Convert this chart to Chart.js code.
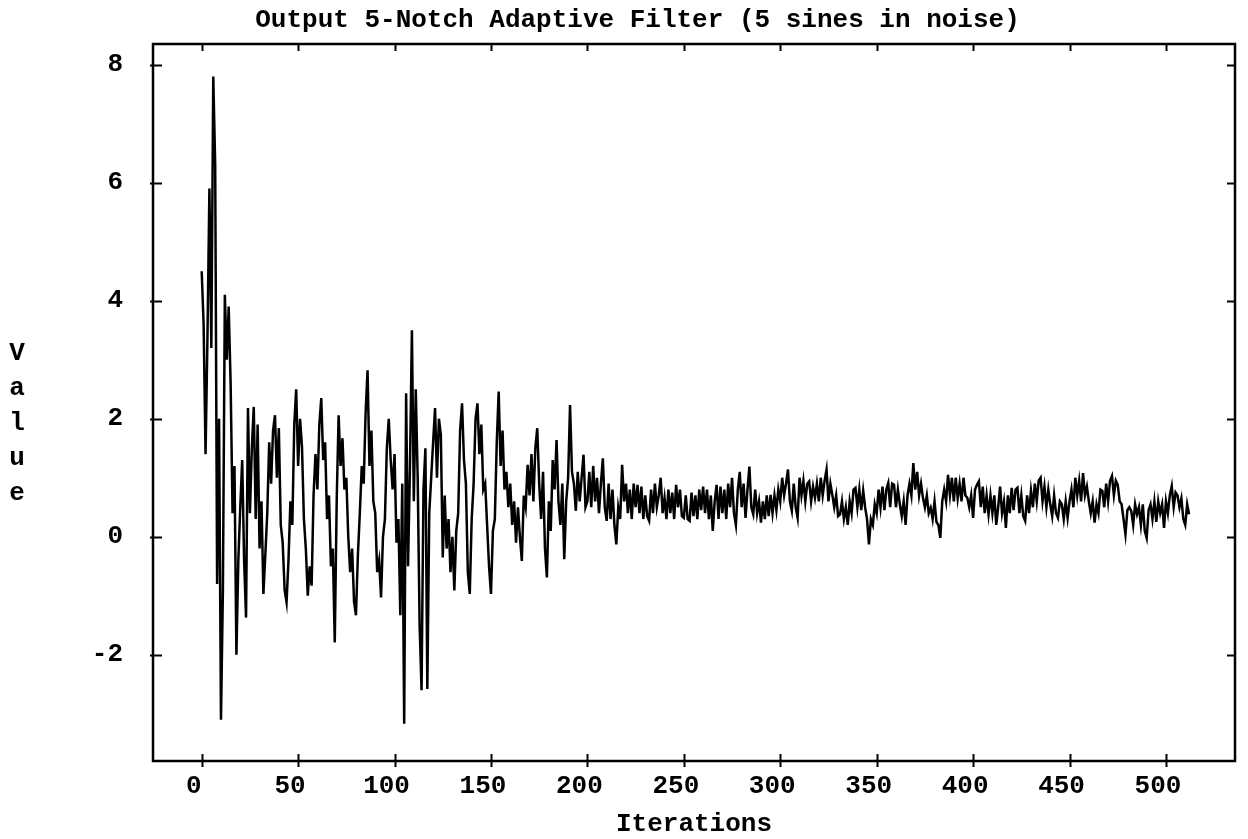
<!DOCTYPE html>
<html>
<head>
<meta charset="utf-8">
<title>Output 5-Notch Adaptive Filter</title>
<script src="https://cdn.jsdelivr.net/npm/chart.js@4.4.1/dist/chart.umd.min.js"></script>
<style>
  html, body { margin: 0; padding: 0; background: #fff; }
  #wrap { width: 1248px; height: 839px; }
</style>
</head>
<body>
<div id="wrap"><canvas id="chart" width="1248" height="839"></canvas></div>
<script>
// Filter output, one value per iteration (0 .. 512)
const outputValues = [
  4.5, 3.6, 1.4, 3.4, 5.9, 3.2, 7.8, 6.3, -0.8, 2.0,
  -3.1, -0.9, 4.1, 3.0, 3.9, 2.6, 0.4, 1.2, -2.0, -0.4,
  0.5, 1.3, -0.4, -1.37, 2.18, 0.4, 1.5, 2.2, 0.3, 1.9,
  -0.2, 0.6, -0.97, -0.3, 0.4, 1.6, 0.9, 1.8, 2.06, 1.0,
  1.84, 0.2, -0.1, -0.9, -1.11, -0.4, 0.6, 0.2, 1.9, 2.5,
  1.2, 2.0, 1.53, 0.3, -0.2, -1.0, -0.5, -0.83, 0.7, 1.4,
  0.8, 1.9, 2.35, 1.3, 1.6, 0.3, 0.7, -0.5, -0.2, -1.79,
  0.6, 2.06, 1.2, 1.67, 0.8, 1.0, 0.0, -0.6, -0.2, -1.1,
  -1.33, -0.3, 0.4, 1.2, 0.9, 2.1, 2.82, 1.2, 1.8, 0.6,
  0.4, -0.6, -0.4, -1.03, 0.0, 0.3, 1.5, 2.0, 1.3, 0.8,
  1.4, -0.1, 0.3, -1.33, 0.9, -3.17, 2.43, -0.5, 1.2, 3.5,
  0.6, 2.5, 1.0, -1.5, -2.6, 0.8, 1.5, -2.58, 0.4, 1.0,
  1.6, 2.18, 1.0, 2.0, 1.73, -0.35, 0.7, -0.2, 0.3, -0.6,
  0.0, -0.91, 0.1, 0.4, 1.8, 2.26, 1.3, 0.9, -0.6, -0.97,
  0.3, 0.9, 2.0, 2.26, 1.4, 1.9, 0.8, 0.9, 0.2, -0.5,
  -0.97, 0.1, 0.3, 1.6, 2.46, 1.2, 1.8, 0.8, 1.1, 0.5,
  0.9, 0.2, 0.6, -0.1, 0.5, 0.0, -0.41, 0.7, 0.5, 1.22,
  0.7, 1.4, 0.6, 1.5, 1.84, 0.9, 0.3, 1.1, -0.2, -0.69,
  0.6, 0.1, 1.3, 0.8, 1.64, 0.6, 0.2, 0.9, -0.38, 0.6,
  1.0, 2.23, 1.1, 0.9, 0.44, 1.1, 0.6, 1.0, 1.39, 0.5,
  0.6, 1.1, 0.5, 1.2, 0.6, 1.0, 0.4, 0.9, 1.33, 0.5,
  0.27, 0.9, 0.3, 0.8, 0.2, -0.13, 0.5, 0.3, 1.22, 0.6,
  0.9, 0.4, 0.8, 0.3, 0.9, 0.5, 0.88, 0.4, 0.85, 0.3,
  0.7, 0.35, 0.27, 0.8, 0.4, 0.9, 0.5, 0.7, 1.0, 0.4,
  0.66, 0.3, 0.8, 0.4, 0.75, 0.3, 0.88, 0.5, 0.8, 0.35,
  0.32, 0.7, 0.3, 0.27, 0.75, 0.35, 0.7, 0.3, 0.8, 0.45,
  0.85, 0.4, 0.8, 0.3, 0.7, 0.1, 0.6, 0.88, 0.3, 0.85,
  0.4, 0.8, 0.3, 0.9, 0.5, 1.0, 0.4, 0.2, 0.8, 1.1,
  0.5, 0.9, 0.32, 0.8, 1.19, 0.5, 0.38, 0.8, 0.4, 0.6,
  0.24, 0.6, 0.3, 0.7, 0.35, 0.71, 0.4, 0.7, 0.45, 0.8,
  0.6, 1.0, 0.7, 0.9, 1.14, 0.6, 0.44, 0.9, 0.5, 0.32,
  1.0, 0.7, 0.95, 0.6, 0.9, 0.94, 0.6, 0.85, 0.66, 0.9,
  0.6, 1.0, 0.7, 0.95, 1.14, 0.6, 0.9, 0.71, 0.5, 0.7,
  0.35, 0.38, 0.6, 0.3, 0.5, 0.2, 0.6, 0.4, 0.8, 0.83,
  0.5, 0.8, 0.45, 0.78, 0.5, 0.3, -0.13, 0.3, 0.2, 0.55,
  0.4, 0.8, 0.5, 0.85, 0.45, 0.8, 0.91, 0.5, 0.9, 0.88,
  0.5, 0.8, 0.55, 0.35, 0.6, 0.2, 0.7, 0.9, 0.7, 1.25,
  0.8, 1.1, 0.7, 0.9, 0.66, 0.5, 0.7, 0.4, 0.49, 0.3,
  0.6, 0.25, 0.2, -0.02, 0.6, 0.8, 0.6, 1.05, 0.7, 1.0,
  0.6, 1.0, 0.65, 0.9, 0.6, 1.0, 0.7, 0.66, 0.5, 0.7,
  0.32, 0.8, 0.88, 0.94, 0.5, 0.85, 0.4, 0.7, 0.38, 0.7,
  0.4, 0.7, 0.2, 0.5, 0.85, 0.4, 0.6, 0.15, 0.7, 0.4,
  0.83, 0.45, 0.8, 0.83, 0.4, 0.7, 0.35, 0.27, 0.7, 0.4,
  0.78, 0.5, 0.9, 0.6, 0.95, 1.0, 0.6, 0.85, 0.5, 0.8,
  0.55, 0.35, 0.7, 0.4, 0.32, 0.6, 0.55, 0.3, 0.6, 0.32,
  0.6, 0.8, 0.5, 1.0, 0.7, 0.95, 0.6, 1.08, 0.7, 0.85,
  0.6, 0.4, 0.6, 0.24, 0.55, 0.4, 0.8, 0.78, 0.5, 0.9,
  0.6, 0.95, 1.03, 0.7, 0.95, 0.88, 0.6, 0.55, 0.3, 0.04,
  0.45, 0.5, 0.44, 0.2, 0.55, 0.38, 0.5, 0.2, 0.55, 0.1,
  -0.02, 0.45, 0.55, 0.3, 0.6, 0.25, 0.6, 0.4, 0.55, 0.15,
  0.6, 0.4, 0.7, 0.86, 0.5, 0.75, 0.7, 0.5, 0.65, 0.3,
  0.2, 0.55, 0.38
];
const iterations = outputValues.map((_, i) => i);

const xTickValues = [0, 50, 100, 150, 200, 250, 300, 350, 400, 450, 500];
const yTickValues = [-2, 0, 2, 4, 6, 8];

const chartTitle = 'Output 5-Notch Adaptive Filter (5 sines in noise)';
const xAxisTitle = 'Iterations';
const yAxisLetters = ['V', 'a', 'l', 'u', 'e'];

const FONT = { family: '"Liberation Mono", "DejaVu Sans Mono", monospace', size: 26, weight: 'bold', lineHeight: 1 };

// Box frame, inward/outward tick marks and the stacked vertical axis caption
const frameAndTicks = {
  id: 'frameAndTicks',
  afterDatasetsDraw(chart) {
    const { ctx, chartArea: a, scales: { x, y } } = chart;
    ctx.save();
    ctx.strokeStyle = '#000';
    ctx.lineWidth = 2.5;
    ctx.strokeRect(a.left, a.top, a.right - a.left, a.bottom - a.top);
    ctx.lineWidth = 2;
    ctx.beginPath();
    x.ticks.forEach(t => {
      const px = Math.round(x.getPixelForValue(t.value)) + 0.5;
      ctx.moveTo(px, a.bottom - 7); ctx.lineTo(px, a.bottom + 6);
      ctx.moveTo(px, a.top); ctx.lineTo(px, a.top + 7);
    });
    y.ticks.forEach(t => {
      const py = Math.round(y.getPixelForValue(t.value)) + 0.5;
      ctx.moveTo(a.left - 3, py); ctx.lineTo(a.left + 9, py);
      ctx.moveTo(a.right - 8, py); ctx.lineTo(a.right, py);
    });
    ctx.stroke();

    ctx.fillStyle = '#000';
    ctx.font = `bold ${FONT.size}px ${FONT.family}`;
    ctx.textAlign = 'center';
    ctx.textBaseline = 'middle';
    const step = 35;
    yAxisLetters.forEach((ch, i) => {
      ctx.fillText(ch, 17, 353 + i * step);
    });
    ctx.restore();
  }
};

new Chart(document.getElementById('chart'), {
  type: 'line',
  data: {
    datasets: [{
      data: iterations.map((it, i) => ({ x: it, y: outputValues[i] })),
      borderColor: '#000',
      borderWidth: 2.5,
      pointRadius: 0,
      tension: 0,
      fill: false
    }]
  },
  options: {
    responsive: false,
    animation: false,
    devicePixelRatio: 1,
    layout: { padding: { left: 40, right: 13, top: 0, bottom: 0 } },
    plugins: {
      legend: { display: false },
      tooltip: { enabled: false },
      title: {
        display: true,
        text: chartTitle,
        color: '#000',
        font: FONT,
        padding: { top: 7, bottom: 11 }
      }
    },
    scales: {
      x: {
        type: 'linear',
        min: -25.25,
        max: 535.8,
        afterBuildTicks: s => { s.ticks = xTickValues.map(v => ({ value: v })); },
        afterFit: s => { s.height = 78; },
        grid: { display: false, drawTicks: false },
        border: { display: false },
        ticks: {
          color: '#000', font: FONT, padding: 12, labelOffset: -8,
          autoSkip: false, maxRotation: 0, minRotation: 0,
          callback: v => String(v)
        },
        title: { display: true, text: xAxisTitle, color: '#000', font: FONT, padding: { top: 0, bottom: 2 } }
      },
      y: {
        min: -3.8,
        max: 8.35,
        afterBuildTicks: s => { s.ticks = yTickValues.map(v => ({ value: v })); },
        afterFit: s => { s.width = 113; },
        grid: { display: false, drawTicks: false },
        border: { display: false },
        ticks: { color: '#000', font: FONT, padding: 30, callback: v => String(v) }
      }
    }
  },
  plugins: [frameAndTicks]
});
</script>
</body>
</html>
